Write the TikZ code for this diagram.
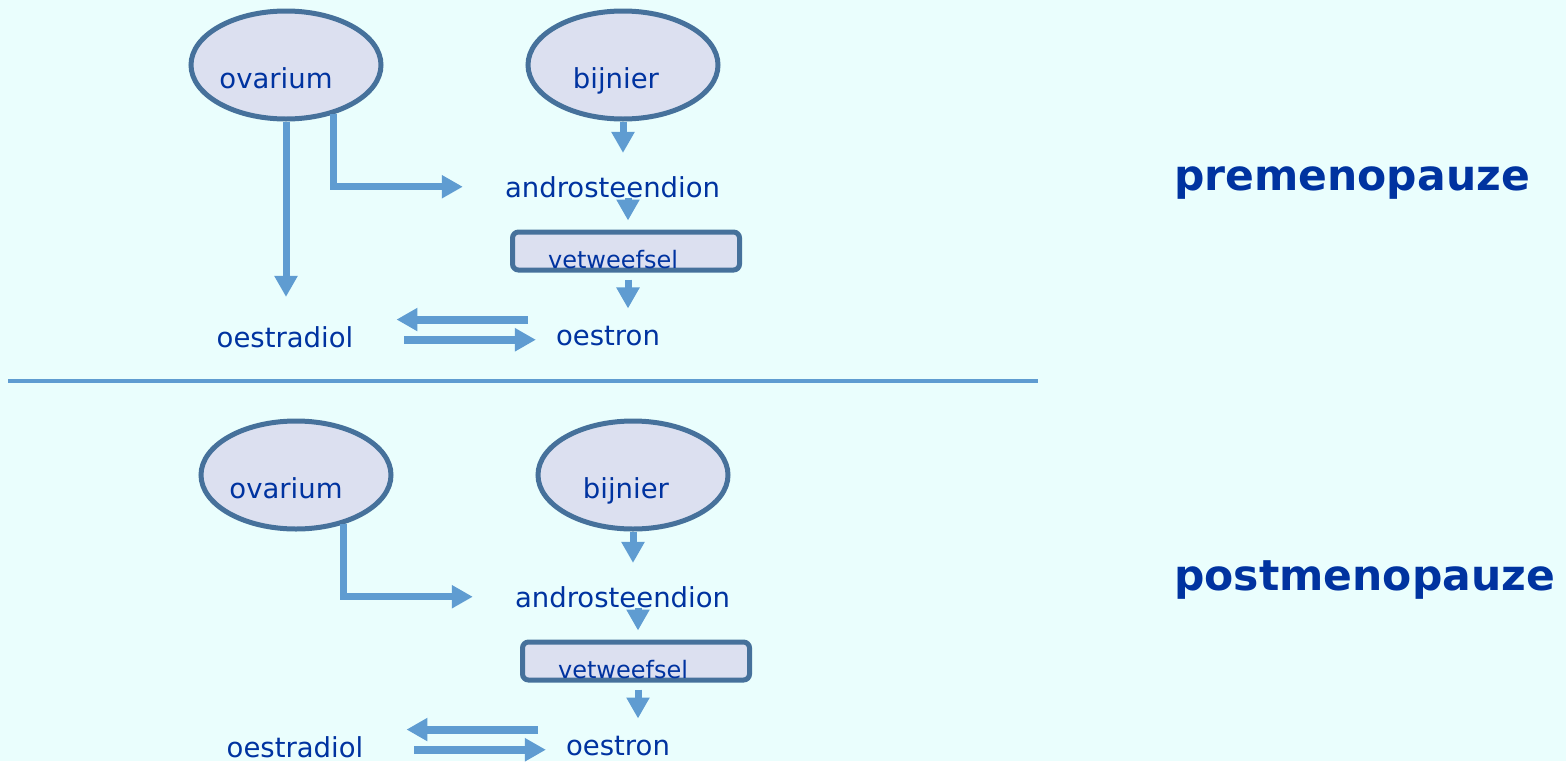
\documentclass[tikz,border=0pt]{standalone}
\usepackage{fontspec}
\setmainfont{DejaVu Sans}
\usetikzlibrary{arrows.meta,shapes.geometric}
\definecolor{bgc}{HTML}{EAFEFD}
\definecolor{fillc}{HTML}{DCE0F0}
\definecolor{edgec}{HTML}{46719B}
\definecolor{arrc}{HTML}{5F9CD1}
\definecolor{txtc}{HTML}{0033A0}

\begin{document}
\begin{tikzpicture}[x=1pt,y=-1pt,
  organ/.style={ellipse, draw=edgec, fill=fillc, line width=5pt,
    minimum width=190pt, minimum height=108pt, inner sep=0pt},
  tissue/.style={draw=edgec, fill=fillc, line width=5pt, rounded corners=6pt,
    minimum width=227pt, minimum height=38pt, inner sep=0pt},
  lbl/.style={text=txtc, inner sep=0pt, anchor=base, font=\fontsize{27.5}{32}\selectfont},
  smalllbl/.style={lbl, font=\fontsize{24}{28}\selectfont},
  phase/.style={text=txtc, inner sep=0pt, anchor=base west,
    font=\fontsize{42.5}{48}\selectfont\bfseries},
  flow/.style={draw=arrc, line width=7pt, -{Triangle[length=21pt,width=22pt]}},
  pair/.style={flow, line width=8pt},
]
\fill[bgc] (0,0) rectangle (1566,761);
\useasboundingbox (0,0) rectangle (1566,761);

% ---------- before menopause ----------
\node[organ] (ovA) at (286,65) {};
\node[lbl] (ovAt) at (276,88) {ovarium};
\node[organ] (biA) at (623,65) {};
\node[lbl] (biAt) at (616,88) {bijnier};
\node[lbl] (anA) at (612.5,197) {androsteendion};
\node[tissue] (vtA) at (626,251) {};
\node[smalllbl] (vtAt) at (613,268) {vetweefsel};
\node[lbl] (odA) at (285,347) {oestradiol};
\node[lbl] (oeA) at (608,345) {oestron};

\draw[flow, shorten >=29pt] (ovA.south) -- (ovA.south |- odA.north);
\draw[flow] (ovA.-46) |- ([xshift=-42pt]anA.west);
\draw[flow, shorten >=23pt] (biA.south) -- (biA.south |- anA.north);
\draw[flow, shorten >=9pt] ([xshift=2pt]vtA.north |- anA.south) -- ([xshift=2pt]vtA.north);
\draw[flow, shorten <=7pt, shorten >=17pt] ([xshift=2pt]vtA.south) -- ([xshift=2pt]vtA.south |- oeA.north);
\draw[pair, shorten <=28pt, shorten >=43pt] ([yshift=16pt]oeA.west) -- ([yshift=16pt]oeA.west -| odA.east);
\draw[pair, shorten <=51pt, shorten >=20pt] ([yshift=-3pt]odA.east) -- ([yshift=-3pt]odA.east -| oeA.west);

\node[phase] (preL) at (1174,190) {premenopauze};

% ---------- divider ----------
\coordinate (divL) at (8,381);
\coordinate (divR) at (1038,381);
\draw[arrc, line width=4.5pt] (divL) -- (divR);

% ---------- after menopause ----------
\begin{scope}[shift={(10,410)}]
\node[organ] (ovB) at (286,65) {};
\node[lbl] (ovBt) at (276,88) {ovarium};
\node[organ] (biB) at (623,65) {};
\node[lbl] (biBt) at (616,88) {bijnier};
\node[lbl] (anB) at (612.5,197) {androsteendion};
\node[tissue] (vtB) at (626,251) {};
\node[smalllbl] (vtBt) at (613,268) {vetweefsel};
\node[lbl] (odB) at (285,347) {oestradiol};
\node[lbl] (oeB) at (608,345) {oestron};

\draw[flow] (ovB.-46) |- ([xshift=-42pt]anB.west);
\draw[flow, shorten >=23pt] (biB.south) -- (biB.south |- anB.north);
\draw[flow, shorten >=9pt] ([xshift=2pt]vtB.north |- anB.south) -- ([xshift=2pt]vtB.north);
\draw[flow, shorten <=7pt, shorten >=17pt] ([xshift=2pt]vtB.south) -- ([xshift=2pt]vtB.south |- oeB.north);
\draw[pair, shorten <=28pt, shorten >=43pt] ([yshift=16pt]oeB.west) -- ([yshift=16pt]oeB.west -| odB.east);
\draw[pair, shorten <=51pt, shorten >=20pt] ([yshift=-3pt]odB.east) -- ([yshift=-3pt]odB.east -| oeB.west);
\end{scope}

\node[phase] (postL) at (1174,590) {postmenopauze};
\end{tikzpicture}
\end{document}
